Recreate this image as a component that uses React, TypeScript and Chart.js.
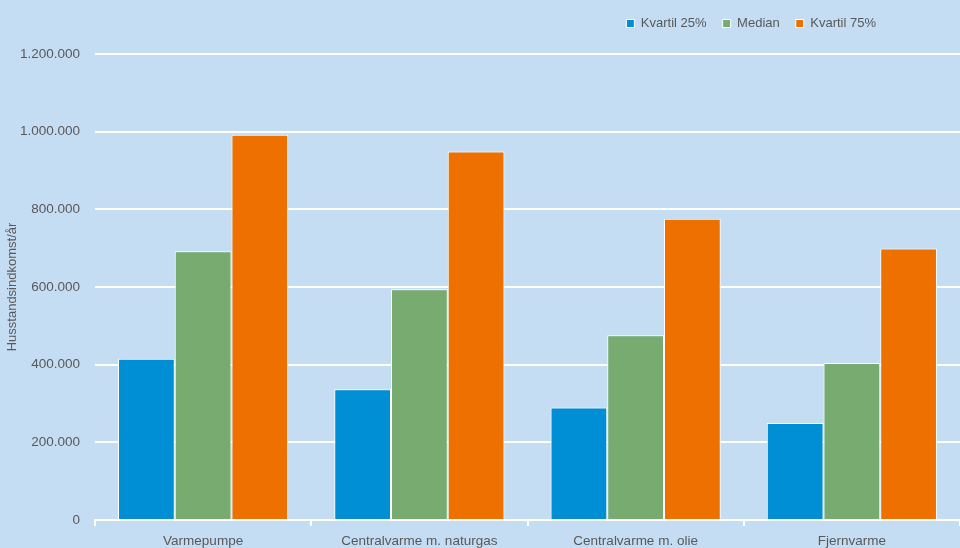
import React, { useEffect, useRef } from "react";
import { Chart, registerables } from "chart.js";

Chart.register(...registerables);

const categories = ["Varmepumpe", "Centralvarme m. naturgas", "Centralvarme m. olie", "Fjernvarme"];
const seriesNames = ["Kvartil 25%", "Median", "Kvartil 75%"];
const kvartil25 = [415000, 337000, 290000, 250000];
const median = [692000, 594000, 476000, 404000];
const kvartil75 = [992000, 949000, 776000, 699000];
const yTitle = "Husstandsindkomst/år";

const TEXT = "#595959";
const FONT = "'Liberation Sans', Arial, sans-serif";

function fmt(v: number): string {
  return String(Math.round(v)).replace(/\B(?=(\d{3})+(?!\d))/g, ".");
}

const legendTweak = {
  id: "legendTweak",
  beforeLayout(chart: any) {
    const lg = chart.legend;
    if (lg && !lg.__patched) {
      const orig = lg.fit.bind(lg);
      lg.fit = function () {
        orig();
        this.height += 15;
      };
      lg.__patched = true;
    }
  },
  afterLayout(chart: any) {
    const lg = chart.legend;
    if (lg) {
      lg.top += 1;
      lg.right = 892;
    }
  },
};

export default function App() {
  const ref = useRef<HTMLCanvasElement>(null);
  useEffect(() => {
    if (!ref.current) return;
    const chart = new Chart(ref.current, {
      type: "bar",
      data: {
        labels: categories,
        datasets: [
          { label: seriesNames[0], data: kvartil25, backgroundColor: "#008FD5", borderColor: "#FFFFFF", borderWidth: 1 },
          { label: seriesNames[1], data: median, backgroundColor: "#77AB6F", borderColor: "#FFFFFF", borderWidth: 1 },
          { label: seriesNames[2], data: kvartil75, backgroundColor: "#EE7100", borderColor: "#FFFFFF", borderWidth: 1 },
        ],
      },
      options: {
        animation: false,
        responsive: false,
        maintainAspectRatio: false,
        layout: { padding: { top: 0, left: 0, right: 0, bottom: 0 } },
        datasets: { bar: { categoryPercentage: 0.787, barPercentage: 1 } },
        plugins: {
          legend: {
            position: "top",
            align: "end",
            labels: {
              boxWidth: 8,
              boxHeight: 8,
              padding: 16,
              color: TEXT,
              font: { family: FONT, size: 13 },
            },
          },
          tooltip: { enabled: false },
        },
        scales: {
          x: {
            grid: {
              display: true,
              drawOnChartArea: false,
              offset: true,
              color: "#FFFFFF",
              lineWidth: 2,
              tickLength: 6,
            },
            border: { display: true, color: "#FFFFFF", width: 2 },
            ticks: { color: TEXT, font: { family: FONT, size: 13.5 }, padding: 7, maxRotation: 0 },
            afterFit(scale: any) {
              scale.height = 28;
            },
          },
          y: {
            min: 0,
            max: 1200000,
            ticks: {
              stepSize: 200000,
              color: TEXT,
              font: { family: FONT, size: 13.5 },
              padding: 15,
              callback: (v: any) => fmt(Number(v)),
            },
            grid: { color: "#FFFFFF", lineWidth: 2, drawTicks: false },
            border: { display: false },
            title: {
              display: true,
              text: yTitle,
              color: TEXT,
              font: { family: FONT, size: 13 },
              padding: { top: 5, bottom: 0 },
            },
            afterFit(scale: any) {
              scale.width = 95;
            },
          },
        },
      },
      plugins: [legendTweak],
    } as any);
    return () => chart.destroy();
  }, []);
  return (
    <div style={{ position: "fixed", left: 0, top: 0, width: 960, height: 548, background: "#C4DDF2" }}>
      <canvas ref={ref} width={960} height={548} style={{ display: "block", width: 960, height: 548 }} />
    </div>
  );
}
